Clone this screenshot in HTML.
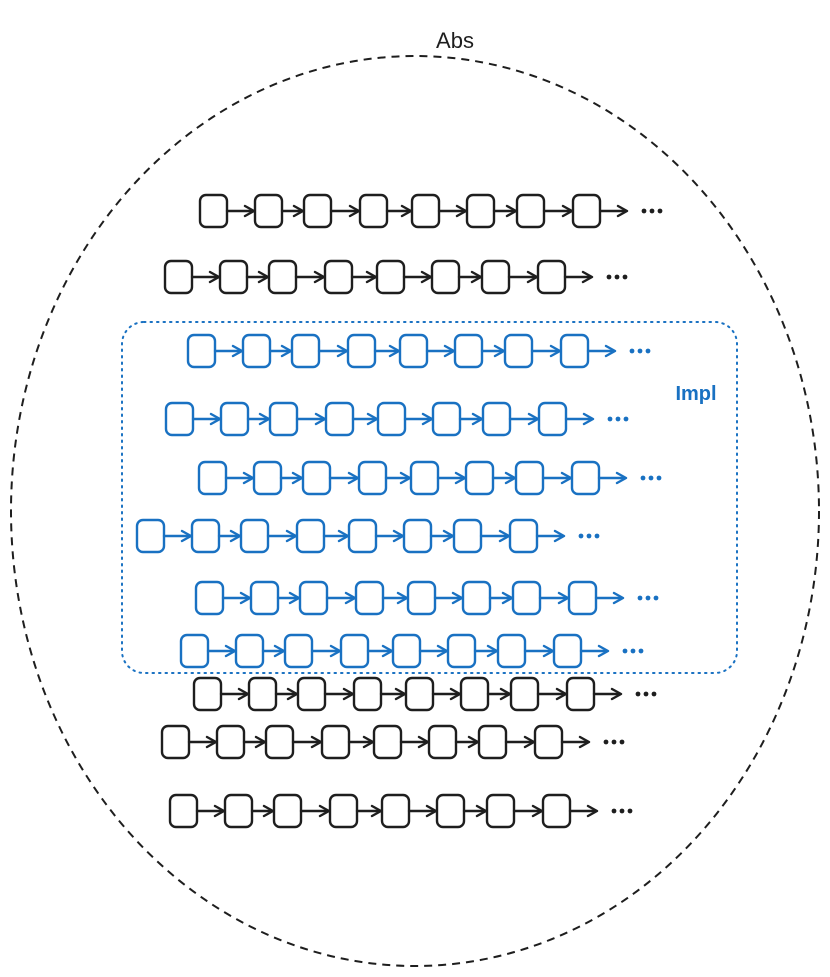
<!DOCTYPE html>
<html><head><meta charset="utf-8"><style>html,body{margin:0;padding:0;background:#fff}</style></head>
<body>
<svg width="830" height="972" viewBox="0 0 830 972" xmlns="http://www.w3.org/2000/svg">
<defs>
<g id="row" fill="none" stroke="currentColor" stroke-width="2.4" stroke-linecap="round" stroke-linejoin="round">
<rect x="0" y="0" width="27" height="32" rx="6"/>
<rect x="55" y="0" width="27" height="32" rx="6"/>
<rect x="104" y="0" width="27" height="32" rx="6"/>
<rect x="160" y="0" width="27" height="32" rx="6"/>
<rect x="212" y="0" width="27" height="32" rx="6"/>
<rect x="267" y="0" width="27" height="32" rx="6"/>
<rect x="317" y="0" width="27" height="32" rx="6"/>
<rect x="373" y="0" width="27" height="32" rx="6"/>
<path d="M27,16 H53 M82,16 H102 M131,16 H158 M187,16 H210 M239,16 H265 M294,16 H315 M344,16 H371 M400,16 H426" />
<path d="M45,11 L54,16 L45,21 M94,11 L103,16 L94,21 M150,11 L159,16 L150,21 M202,11 L211,16 L202,21 M257,11 L266,16 L257,21 M307,11 L316,16 L307,21 M363,11 L372,16 L363,21 M418,11 L427,16 L418,21"/>
<circle cx="444" cy="16" r="2.4" fill="currentColor" stroke="none"/><circle cx="452" cy="16" r="2.4" fill="currentColor" stroke="none"/><circle cx="460" cy="16" r="2.4" fill="currentColor" stroke="none"/>
</g>
</defs>
<ellipse cx="415" cy="511" rx="404" ry="455" fill="none" stroke="#1e1e1e" stroke-width="2" stroke-dasharray="8 6"/>
<text x="455" y="48" font-family="'Liberation Sans', sans-serif" font-size="22" fill="#1e1e1e" text-anchor="middle">Abs</text>
<rect x="122" y="322" width="615" height="351" rx="22" fill="none" stroke="#1971c2" stroke-width="2" stroke-dasharray="1.5 5" stroke-linecap="round"/>
<text x="696" y="400" font-family="'Liberation Sans', sans-serif" font-size="20" font-weight="bold" fill="#1971c2" text-anchor="middle">Impl</text>
<g style="color:#1e1e1e">
<use href="#row" x="200" y="195"/>
<use href="#row" x="165" y="261"/>
<use href="#row" x="194" y="678"/>
<use href="#row" x="162" y="726"/>
<use href="#row" x="170" y="795"/>
</g>
<g style="color:#1971c2">
<use href="#row" x="188" y="335"/>
<use href="#row" x="166" y="403"/>
<use href="#row" x="199" y="462"/>
<use href="#row" x="137" y="520"/>
<use href="#row" x="196" y="582"/>
<use href="#row" x="181" y="635"/>
</g>
</svg>
</body></html>
